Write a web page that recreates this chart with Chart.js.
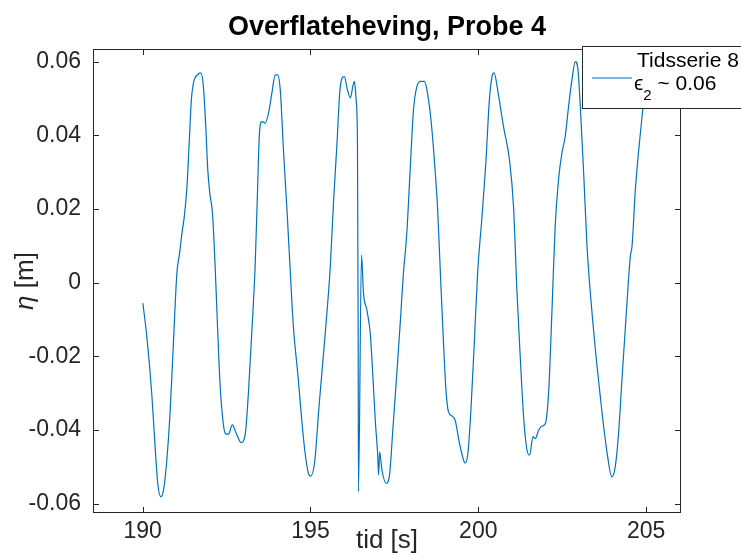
<!DOCTYPE html>
<html>
<head>
<meta charset="utf-8">
<script src="https://cdn.jsdelivr.net/npm/chart.js@4"></script>
<style>
  html, body { margin: 0; padding: 0; background: #ffffff; }
  #wrap { width: 741px; height: 553px; position: relative; }
</style>
</head>
<body>
<div id="wrap"><canvas id="c" width="741" height="553"></canvas></div>
<script>
// ---- data ----
const titleText = "Overflateheving, Probe 4";
const xAxisLabel = "tid [s]";
const yAxisSymbol = "η";
const yAxisUnit = " [m]";
const legendLine1 = "Tidsserie 8";
const legendLine2 = ["ϵ", "2", " ~ 0.06"];

const xTicks = [190, 195, 200, 205];
const yTicks = [-0.06, -0.04, -0.02, 0, 0.02, 0.04, 0.06];
const yTickLabels = ["-0.06", "-0.04", "-0.02", "0", "0.02", "0.04", "0.06"];

const time = [
  190.006, 190.125, 190.27, 190.37, 190.45, 190.54, 190.62, 190.72, 190.82, 190.92,
  191.02, 191.10, 191.17, 191.24, 191.32, 191.39, 191.45, 191.51, 191.63, 191.73,
  191.81, 191.88, 191.94, 192.00, 192.08, 192.16, 192.23, 192.31, 192.39, 192.46,
  192.56, 192.67, 192.79, 192.93, 193.06, 193.15, 193.25, 193.35, 193.42, 193.48,
  193.55, 193.65, 193.75, 193.85, 193.95, 194.02, 194.10, 194.20, 194.30, 194.40,
  194.49, 194.63, 194.74, 194.84, 194.94, 195.00, 195.12, 195.26, 195.44, 195.59,
  195.69, 195.79, 195.87, 195.94, 196.01, 196.09, 196.19, 196.26, 196.31, 196.36,
  196.40, 196.42, 196.43, 196.52, 196.58, 196.68, 196.78, 196.86, 196.93, 197.00,
  197.03, 197.06, 197.13, 197.26, 197.36, 197.46, 197.58, 197.68, 197.77, 197.87,
  197.97, 198.07, 198.17, 198.29, 198.39, 198.47, 198.59, 198.69, 198.79, 198.87,
  198.95, 199.03, 199.11, 199.22, 199.31, 199.44, 199.56, 199.61, 199.69, 199.78,
  199.88, 199.98, 200.11, 200.23, 200.33, 200.41, 200.47, 200.60, 200.75, 200.93,
  201.05, 201.15, 201.25, 201.35, 201.45, 201.53, 201.63, 201.70, 201.80, 201.90,
  202.00, 202.10, 202.20, 202.29, 202.39, 202.49, 202.59, 202.69, 202.79, 202.89,
  202.97, 203.04, 203.14, 203.24, 203.39, 203.54, 203.69, 203.84, 203.98, 204.08,
  204.18, 204.28, 204.41, 204.53, 204.58, 204.68, 204.78, 204.88, 204.95, 205.02
];
const eta = [
  -0.0056, -0.0147, -0.0300, -0.0445, -0.0545, -0.0581, -0.0563, -0.0481, -0.0346, -0.0156,
  0.0026, 0.0080, 0.0134, 0.0179, 0.0260, 0.0387, 0.0496, 0.0541, 0.0564, 0.0569,
  0.0532, 0.0424, 0.0306, 0.0243, 0.0188, 0.0043, -0.0119, -0.0282, -0.0373, -0.0409,
  -0.0411, -0.0386, -0.0409, -0.0434, -0.0409, -0.0300, -0.0137, 0.0043, 0.0243, 0.0406,
  0.0437, 0.0433, 0.0460, 0.0514, 0.0564, 0.0564, 0.0523, 0.0351, 0.0197, 0.0026,
  -0.0119, -0.0255, -0.0373, -0.0463, -0.0518, -0.0525, -0.0490, -0.0330, -0.0137, 0.0043,
  0.0225, 0.0378, 0.0514, 0.0555, 0.0559, 0.0528, 0.0501, 0.0532, 0.0546, 0.0496,
  0.0378, -0.0119, -0.0567, 0.0075, -0.0029, -0.0074, -0.0137, -0.0255, -0.0373, -0.0463,
  -0.0522, -0.0459, -0.0509, -0.0545, -0.0518, -0.0391, -0.0237, -0.0101, 0.0026, 0.0134,
  0.0306, 0.0469, 0.0532, 0.0546, 0.0546, 0.0523, 0.0442, 0.0334, 0.0197, 0.0026,
  -0.0137, -0.0282, -0.0350, -0.0362, -0.0373, -0.0436, -0.0481, -0.0490, -0.0463, -0.0346,
  -0.0165, 0.0026, 0.0179, 0.0333, 0.0496, 0.0559, 0.0569, 0.0510, 0.0424, 0.0333,
  0.0206, -0.0020, -0.0201, -0.0364, -0.0454, -0.0468, -0.0418, -0.0423, -0.0400, -0.0389,
  -0.0382, -0.0291, -0.0065, 0.0152, 0.0279, 0.0351, 0.0396, 0.0478, 0.0550, 0.0600,
  0.0578, 0.0478, 0.0297, 0.0098, -0.0083, -0.0228, -0.0355, -0.0463, -0.0527, -0.0500,
  -0.0409, -0.0264, -0.0083, 0.0071, 0.0098, 0.0252, 0.0360, 0.0451, 0.0514, 0.0560
];

// ---- styling ----
const LINE_COLOR = "#0072BD";
const AXIS_COLOR = "#262626";
const FONT = "'Liberation Sans', Arial, Helvetica, sans-serif";

const points = time.map((t, i) => ({ x: t, y: eta[i] }));

const decor = {
  id: "decor",
  beforeDatasetsDraw(chart) {
    const { ctx, chartArea: a, scales } = chart;
    ctx.save();
    ctx.strokeStyle = AXIS_COLOR;
    ctx.lineWidth = 1;
    ctx.strokeRect(Math.round(a.left) + 0.5, Math.round(a.top) + 0.5,
                   Math.round(a.right - a.left) - 1, Math.round(a.bottom - a.top) - 1);
    const tl = 6;
    ctx.beginPath();
    xTicks.forEach(v => {
      const x = Math.round(scales.x.getPixelForValue(v)) + 0.5;
      ctx.moveTo(x, a.bottom); ctx.lineTo(x, a.bottom - tl);
      ctx.moveTo(x, a.top); ctx.lineTo(x, a.top + tl);
    });
    yTicks.forEach(v => {
      const y = Math.round(scales.y.getPixelForValue(v)) + 0.5;
      ctx.moveTo(a.left, y); ctx.lineTo(a.left + tl, y);
      ctx.moveTo(a.right, y); ctx.lineTo(a.right - tl, y);
    });
    ctx.stroke();
    ctx.restore();
  },
  afterDraw(chart) {
    const { ctx, chartArea: a } = chart;
    ctx.save();
    // title
    ctx.fillStyle = "#000000";
    ctx.font = "bold 27px " + FONT;
    ctx.textAlign = "center";
    ctx.textBaseline = "alphabetic";
    ctx.fillText(titleText, (a.left + a.right) / 2, 35);
    // x label
    ctx.fillStyle = AXIS_COLOR;
    ctx.font = "26px " + FONT;
    ctx.fillText(xAxisLabel, (a.left + a.right) / 2, 548);
    // y label (rotated)
    ctx.save();
    ctx.translate(33, (a.top + a.bottom) / 2);
    ctx.rotate(-Math.PI / 2);
    ctx.font = "italic 26px " + FONT;
    const w1 = ctx.measureText(yAxisSymbol).width;
    ctx.font = "26px " + FONT;
    const w2 = ctx.measureText(yAxisUnit).width;
    let sx = -(w1 + w2) / 2;
    ctx.textAlign = "left";
    ctx.font = "italic 26px " + FONT;
    ctx.fillText(yAxisSymbol, sx, 0);
    ctx.font = "26px " + FONT;
    ctx.fillText(yAxisUnit, sx + w1, 0);
    ctx.restore();
    // legend
    ctx.fillStyle = "#ffffff";
    ctx.fillRect(582, 46, 170, 62);
    ctx.strokeStyle = AXIS_COLOR;
    ctx.lineWidth = 1;
    ctx.strokeRect(582.5, 46.5, 170, 62);
    ctx.strokeStyle = LINE_COLOR;
    ctx.lineWidth = 1.2;
    ctx.beginPath(); ctx.moveTo(592, 78); ctx.lineTo(632, 78); ctx.stroke();
    ctx.fillStyle = "#000000";
    ctx.textAlign = "left";
    ctx.font = "21px " + FONT;
    ctx.fillText(legendLine1, 637, 67);
    ctx.font = "21px " + FONT;
    ctx.fillText(legendLine2[0], 634, 90);
    const ew = ctx.measureText(legendLine2[0]).width;
    ctx.font = "15px " + FONT;
    ctx.fillText(legendLine2[1], 634 + ew, 100);
    const sw = ctx.measureText(legendLine2[1]).width;
    ctx.font = "21px " + FONT;
    ctx.fillText(legendLine2[2], 634 + ew + sw, 90);
    ctx.restore();
  }
};

new Chart(document.getElementById("c"), {
  type: "line",
  data: {
    datasets: [{
      label: legendLine1,
      data: points,
      borderColor: LINE_COLOR,
      borderWidth: 1.2,
      pointRadius: 0,
      fill: false,
      cubicInterpolationMode: "monotone"
    }]
  },
  options: {
    responsive: false,
    animation: false,
    devicePixelRatio: 1,
    layout: { padding: { top: 49, right: 60, bottom: 0, left: 0 } },
    plugins: { legend: { display: false }, title: { display: false }, tooltip: { enabled: false } },
    scales: {
      x: {
        type: "linear",
        min: 188.52,
        max: 206.04,
        afterBuildTicks: s => { s.ticks = xTicks.map(v => ({ value: v })); },
        afterFit: s => { s.height = 40; },
        grid: { display: false, drawTicks: false },
        border: { display: false },
        ticks: {
          padding: 5,
          color: AXIS_COLOR,
          font: { family: FONT, size: 23 },
          maxRotation: 0,
          callback: v => String(v)
        }
      },
      y: {
        type: "linear",
        min: -0.0625,
        max: 0.0634,
        afterBuildTicks: s => { s.ticks = yTicks.map(v => ({ value: v })); },
        afterFit: s => { s.width = 93; },
        grid: { display: false, drawTicks: false },
        border: { display: false },
        ticks: {
          padding: 12,
          color: AXIS_COLOR,
          font: { family: FONT, size: 23 },
          callback: v => {
            const i = yTicks.findIndex(t => Math.abs(t - v) < 1e-9);
            return i >= 0 ? yTickLabels[i] : "";
          }
        }
      }
    }
  },
  plugins: [decor]
});
</script>
</body>
</html>
